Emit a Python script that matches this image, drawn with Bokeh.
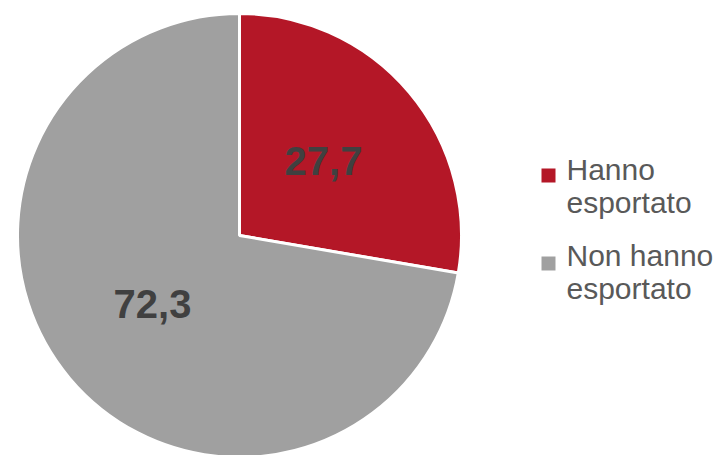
import math
from bokeh.plotting import figure
from bokeh.models import Range1d, ColumnDataSource
from bokeh.core.properties import value
from bokeh.embed import file_html
from bokeh.resources import INLINE

# Data
categories = ["Hanno esportato", "Non hanno esportato"]
values = [27.7, 72.3]
labels = ["27,7", "72,3"]
legend_lines = [["Hanno", "esportato"], ["Non hanno", "esportato"]]
colors = ["#B41727", "#A0A0A0"]

W, H = 722, 455
p = figure(width=W, height=H, output_backend="svg", toolbar_location=None,
           x_range=Range1d(0, W), y_range=Range1d(0, H),
           min_border=0, outline_line_color=None)
p.axis.visible = False
p.grid.visible = False
p.background_fill_color = "white"
p.border_fill_color = "white"

def sy(y):
    return H - y

cx, cy, r = 239, sy(235), 222
total = sum(values)
starts, ends = [], []
acc = 0.0
for v in values:
    starts.append(math.pi / 2 - 2 * math.pi * acc / total)
    acc += v
    ends.append(math.pi / 2 - 2 * math.pi * acc / total)

src = ColumnDataSource(dict(start=starts, end=ends, color=colors))
p.wedge(x=cx, y=cy, radius=r, start_angle="start", end_angle="end", direction="clock",
        fill_color="color", line_color="white", line_width=3, source=src)

# value labels
lab_x = [323, 152]
lab_y = [sy(160), sy(303)]
p.text(x=lab_x, y=lab_y, text=labels, text_font=value("Liberation Sans"),
       text_font_style="bold", text_font_size="40px", text_color="#404040",
       text_align="center", text_baseline="middle")

# legend
sq_y = [sy(175), sy(263)]
p.scatter(x=[548, 548], y=sq_y, marker="square", size=14, fill_color=colors, line_color=None)
line_centers = [[169, 202], [255, 288]]
tx, ty, tt = [], [], []
for lines, cs in zip(legend_lines, line_centers):
    for t, c in zip(lines, cs):
        tx.append(566)
        ty.append(sy(c))
        tt.append(t)
p.text(x=tx, y=ty, text=tt, text_font=value("Liberation Sans"), text_font_size="30px",
       text_color="#595959", text_align="left", text_baseline="middle")

open("out.html", "w").write(file_html(p, INLINE))
